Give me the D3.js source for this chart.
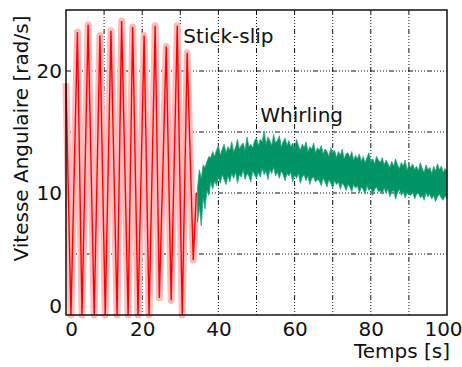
<!DOCTYPE html>
<meta charset="utf-8">
<title>Stick-slip / Whirling</title>
<style>
body { margin: 0; background: #fff; }
text { font-family: "DejaVu Sans", sans-serif; fill: #111; }
.grid line { stroke: #111; stroke-width: 1; stroke-dasharray: 5,2,1,2,1,2,1,2,1,2; }
</style>
<body>
<script src="https://d3js.org/d3.v7.min.js"></script>
<script>

// stick-slip phase : turning points (time [s], speed [rad/s])
var slipTimes  = [0, 1.3, 3.0, 4.2, 5.8, 7.4, 8.9, 10.3, 11.8, 13.4, 14.6, 16.3, 17.5, 18.9,
                  20.5, 21.8, 23.4, 24.5, 26.3, 27.6, 29.2, 30.5, 31.8, 33.4, 34.2];
var slipValues = [19, 0, 23.2, 0, 23.8, 0, 22.9, 0, 23.3, 0, 24.1, 0, 23.6, 0,
                  22.9, 0, 23.7, 1.4, 22.0, 1.2, 23.7, 0, 21.5, 4.5, 10];

// whirling phase : upper / lower edge of the noisy band, one sample every 0.5 s from 34.5 s
var whirlStart = 34.5, whirlStep = 0.5;
var whirlHigh = [
  10.4, 11.9, 11.2, 12.3, 12.1, 12.6, 13.0, 12.9, 13.4, 13.0, 13.5, 13.9, 13.1, 13.6, 14.0, 13.3,
  13.8, 13.5, 14.2, 13.4, 13.7, 14.4, 13.6, 13.9, 14.1, 13.5, 14.6, 13.8, 14.0, 13.7, 14.3, 14.5,
  13.9, 14.4, 14.2, 15.1, 14.0, 14.6, 14.3, 13.9, 14.8, 14.1, 14.3, 14.7, 13.8, 14.2, 14.5, 13.9,
  14.3, 13.8, 14.1, 13.6, 14.4, 13.9, 13.5, 14.0, 13.7, 14.2, 13.4, 13.8, 13.6, 14.1, 13.3, 13.7,
  13.5, 13.9, 13.2, 13.6, 13.4, 13.0, 13.7, 13.3, 13.5, 12.9, 13.4, 13.1, 13.6, 12.8, 13.2, 13.3,
  12.9, 13.4, 12.7, 13.1, 12.8, 13.2, 12.6, 13.0, 12.5, 12.9, 13.3, 12.6, 12.8, 12.4, 13.0, 12.7,
  12.5, 12.9, 12.3, 12.7, 12.4, 12.1, 12.6, 12.2, 12.8, 12.3, 12.0, 12.5, 12.2, 12.7, 11.9, 12.3,
  12.1, 12.4, 11.9, 12.2, 11.8, 12.5, 12.0, 11.7, 12.3, 11.9, 12.1, 11.6, 12.2, 11.8, 12.4, 11.9,
  12.2, 11.7, 12.0, 11.8
];
var whirlLow = [
  7.6, 8.9, 7.3, 9.6, 8.7, 10.2, 9.8, 10.9, 10.3, 11.0, 10.6, 11.3, 10.8, 11.5, 11.1, 10.7,
  11.4, 10.9, 11.6, 11.2, 11.7, 10.8, 11.5, 11.3, 11.9, 11.1, 11.6, 11.4, 10.9, 11.8, 11.5, 11.2,
  11.7, 11.3, 12.0, 11.5, 11.8, 11.1, 11.9, 11.6, 12.1, 11.4, 11.7, 11.2, 11.8, 11.5, 11.0, 11.6,
  11.4, 11.7, 10.9, 11.5, 11.2, 11.6, 10.8, 11.3, 11.5, 11.0, 11.4, 10.7, 11.2, 11.3, 10.9, 11.1,
  11.0, 10.6, 11.2, 10.9, 10.5, 11.1, 10.8, 10.4, 11.0, 10.7, 10.9, 10.3, 10.8, 10.6, 10.2, 10.7,
  10.5, 10.1, 10.7, 10.4, 10.6, 10.0, 10.5, 10.3, 9.9, 10.6, 10.2, 10.4, 9.8, 10.3, 10.5, 10.1,
  10.2, 9.9, 10.4, 10.0, 10.3, 9.7, 10.1, 10.2, 9.5, 10.0, 10.3, 9.8, 10.1, 9.6, 10.0, 9.9,
  9.8, 10.1, 9.5, 9.9, 10.0, 9.6, 9.8, 9.4, 10.0, 9.7, 9.9, 9.5, 9.8, 9.3, 9.7, 9.9,
  9.6, 9.4, 9.8, 9.5
];

var xTicks = [0, 20, 40, 60, 80, 100];
var yTicks = [0, 10, 20];
var xGrid = d3.range(0, 101, 10);
var yGrid = d3.range(0, 26, 5);

var margin = {top: 10, right: 15, bottom: 52, left: 66},
    width = 462 - margin.left - margin.right,
    height = 367 - margin.top - margin.bottom;

var svg = d3.select("body").append("svg")
    .attr("width", 462)
    .attr("height", 367)
  .append("g")
    .attr("transform", "translate(" + margin.left + "," + margin.top + ")");

var x = d3.scaleLinear().domain([0, 100]).range([0, width]);
var y = d3.scaleLinear().domain([0, 25]).range([height, 0]);

// grid
var grid = svg.append("g").attr("class", "grid");
grid.selectAll(".gx").data(xGrid.slice(1, -1)).enter().append("line")
    .attr("x1", d => x(d)).attr("x2", d => x(d))
    .attr("y1", 0).attr("y2", height);
grid.selectAll(".gy").data(yGrid.slice(1, -1)).enter().append("line")
    .attr("y1", d => y(d)).attr("y2", d => y(d))
    .attr("x1", 0).attr("x2", width);

// stick-slip
var slip = slipTimes.map((t, i) => [t, slipValues[i]]);
var line = d3.line().x(d => x(d[0])).y(d => y(d[1]));

svg.append("path").datum(slip)
    .attr("d", line)
    .attr("fill", "none")
    .attr("stroke", "#ffbcbc")
    .attr("stroke-width", 7)
    .attr("stroke-linejoin", "round");

svg.append("path").datum(slip)
    .attr("d", line)
    .attr("fill", "none")
    .attr("stroke", "#ff0000")
    .attr("stroke-width", 1.4);

// whirling band
var whirl = whirlHigh.map((v, i) => ({t: whirlStart + i * whirlStep, hi: v, lo: whirlLow[i]}));
var area = d3.area()
    .x(d => x(d.t))
    .y0(d => y(d.lo))
    .y1(d => y(d.hi));

svg.append("path").datum(whirl)
    .attr("d", area)
    .attr("fill", "#009464")
    .attr("stroke", "#2aa87c")
    .attr("stroke-width", 0.8);

// frame
svg.append("rect")
    .attr("width", width).attr("height", height)
    .attr("fill", "none")
    .attr("stroke", "#111")
    .attr("stroke-width", 1.5);

// axes (labels only)
var xAxis = svg.append("g")
    .attr("transform", "translate(0," + height + ")")
    .call(d3.axisBottom(x).tickValues(xTicks).tickSize(0).tickPadding(7));
var yAxis = svg.append("g")
    .call(d3.axisLeft(y).tickValues(yTicks).tickSize(0).tickPadding(4));
[xAxis, yAxis].forEach(function(a) {
  a.select(".domain").remove();
  a.selectAll("text").attr("font-size", 20).attr("font-family", "DejaVu Sans").attr("fill", "#111");
});
xAxis.selectAll("text").filter(d => d === 0).attr("dx", 5);
xAxis.selectAll("text").filter(d => d === 100).attr("dx", -4);
yAxis.selectAll("text").filter(d => d === 0).attr("dy", "-0.15em");

svg.append("text")
    .attr("x", width + 3)
    .attr("y", height + 43)
    .attr("text-anchor", "end")
    .attr("font-size", 20)
    .text("Temps [s]");

svg.append("text")
    .attr("transform", "translate(-38," + (height / 2 - 24) + ") rotate(-90)")
    .attr("text-anchor", "middle")
    .attr("font-size", 20)
    .text("Vitesse Angulaire [rad/s]");

// annotations
svg.append("text")
    .attr("x", x(30.8)).attr("y", y(22.3))
    .attr("font-size", 20)
    .text("Stick-slip");

svg.append("text")
    .attr("x", x(51.0)).attr("y", y(15.8))
    .attr("font-size", 20)
    .text("Whirling");

</script>
</body>
